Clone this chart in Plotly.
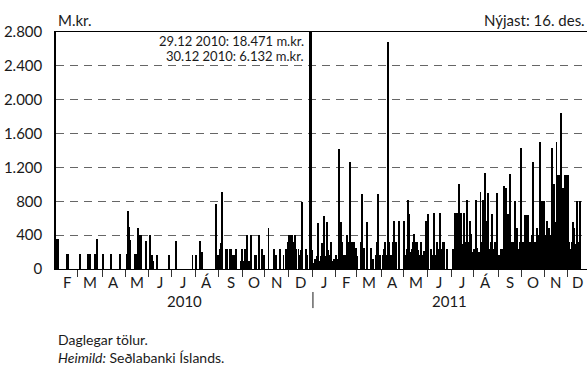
import plotly.graph_objects as go

# Dagleg velta (m.kr.), einn liður á hvern virkan dag mánaðarins
feb10 = [360, 360, 0, 0, 0, 0, 0, 0, 0, 0, 180, 180, 0, 0, 0, 0, 0, 0, 0, 0]
mar10 = [0, 0, 180, 0, 0, 0, 0, 0, 0, 180, 180, 180, 0, 0, 0, 0, 180, 180, 360, 0, 0, 0, 0]
apr10 = [180, 0, 0, 0, 0, 0, 0, 0, 180, 0, 0, 0, 0, 0, 0, 0, 180, 0, 0, 0, 0, 0]
may10 = [0, 180, 680, 500, 340, 0, 0, 0, 180, 0, 180, 480, 0, 400, 400, 0, 0, 0, 0, 330, 0]
jun10 = [0, 400, 0, 170, 90, 0, 0, 0, 170, 0, 0, 0, 0, 0, 0, 0, 0, 0, 0, 170, 0, 0]
jul10 = [0, 0, 0, 0, 330, 0, 0, 0, 0, 0, 0, 0, 0, 0, 0, 0, 0, 0, 0, 170, 0, 0]
aug10 = [170, 0, 0, 0, 330, 0, 200, 0, 0, 0, 0, 0, 0, 0, 0, 0, 0, 0, 0, 770, 0, 170]
sep10 = [0, 240, 310, 910, 0, 0, 240, 240, 0, 0, 240, 240, 0, 160, 160, 0, 240, 0, 0, 0, 90, 240]
oct10 = [0, 90, 240, 90, 400, 80, 90, 0, 400, 0, 0, 160, 160, 0, 0, 400, 0, 0, 240, 0, 160]
nov10 = [0, 0, 0, 480, 0, 0, 0, 0, 240, 0, 160, 0, 0, 0, 240, 0, 0, 160, 0, 240, 0, 320]
dec10 = [400, 400, 400, 400, 160, 320, 400, 240, 0, 240, 160, 220, 790, 0, 0, 0, 240, 160, 0, 0,
         18471, 6132, 230]

jan11 = [75, 120, 0, 150, 540, 100, 0, 150, 310, 150, 630, 100, 150, 560, 230, 160, 320, 100, 0, 120, 0]
feb11 = [160, 0, 120, 1415, 320, 550, 320, 160, 170, 170, 400, 320, 160, 1270, 240, 320, 160, 320, 0, 250]
mar11 = [150, 0, 0, 320, 890, 0, 250, 0, 0, 560, 0, 0, 0, 250, 0, 120, 0, 160, 320, 890, 0, 160, 0]
apr11 = [0, 160, 240, 320, 160, 0, 2680, 320, 160, 0, 320, 565, 200, 320, 0, 0, 570, 0, 0, 0, 0]
may11 = [570, 160, 240, 820, 650, 200, 160, 240, 320, 410, 320, 160, 320, 230, 160, 320, 0, 160, 210, 0,
         570, 160]
jun11 = [650, 0, 0, 240, 0, 160, 660, 160, 320, 240, 0, 660, 240, 160, 320, 320, 0, 0, 240, 0, 0, 0]
jul11 = [0, 240, 200, 660, 320, 660, 400, 1000, 320, 660, 300, 240, 660, 320, 820, 240, 320, 570, 410, 200,
         160]
aug11 = [240, 0, 820, 250, 0, 200, 905, 320, 820, 240, 1140, 570, 320, 900, 240, 160, 320, 650, 200, 240,
         320, 900, 160]
sep11 = [0, 160, 240, 0, 240, 975, 320, 955, 320, 650, 240, 1120, 320, 240, 320, 800, 320, 490, 200, 240,
         320, 1430]
oct11 = [320, 240, 320, 640, 640, 640, 320, 320, 240, 400, 1270, 320, 320, 240, 490, 320, 400, 1505, 800,
         800, 800]
nov11 = [400, 320, 565, 320, 490, 320, 400, 1430, 400, 1000, 560, 1505, 1110, 800, 1110, 1840, 800, 960,
         700, 1110, 560, 1110]
dec11 = [1110, 320, 240, 320, 560, 490, 240, 290, 800, 320, 240, 800]

months = [feb10, mar10, apr10, may10, jun10, jul10, aug10, sep10, oct10, nov10, dec10,
          jan11, feb11, mar11, apr11, may11, jun11, jul11, aug11, sep11, oct11, nov11, dec11]
month_labels = ["F", "M", "A", "M", "J", "J", "Á", "S", "O", "N", "D",
                "J", "F", "M", "A", "M", "J", "J", "Á", "S", "O", "N", "D"]
year_labels = ["2010", "2011"]
y_ticks = [0, 400, 800, 1200, 1600, 2000, 2400, 2800]

FONT = "Lato"
INK = "#1a1a1a"


def kr(v):
    return f"{v:,}".replace(",", ".")


def note(fig, text, x, y, xref="paper", xanchor="left", yanchor="middle", size=15, **kw):
    fig.add_annotation(x=x, y=y, xref=xref, yref="paper", xanchor=xanchor, yanchor=yanchor,
                       text=text, showarrow=False, font=dict(size=size, color=INK), **kw)


values = []
starts = []
for m in months:
    starts.append(len(values))
    values.extend(m)
n = len(values)
x_end = n + 5.5          # ásinn nær aðeins út fyrir síðasta gildi
jan_2011 = starts[11] - 0.5

fig = go.Figure(go.Bar(
    x=list(range(n)),
    y=values,
    width=0.9,
    marker=dict(color="#000000", line=dict(width=0)),
    hovertemplate="%{y:,d} m.kr.<extra></extra>",
))

# mánaðarheiti á milli strika
edges = [s - 0.5 for s in starts] + [x_end]
for i, lab in enumerate(month_labels):
    note(fig, lab, (edges[i] + edges[i + 1]) / 2, -0.055, xref="x", xanchor="center")

note(fig, year_labels[0], (-0.5 + jan_2011) / 2, -0.135, xref="x", xanchor="center")
note(fig, year_labels[1], (jan_2011 + x_end) / 2, -0.135, xref="x", xanchor="center")
fig.add_shape(type="line", xref="x", yref="paper", x0=jan_2011, x1=jan_2011, y0=-0.097, y1=-0.165,
              line=dict(color=INK, width=1))

# toppar sem fara út fyrir kvarðann
spike = starts[10] + 20
note(fig, f"29.12 2010: {kr(dec10[20])} m.kr.", spike, 0.962, xref="x", xanchor="right",
     size=13, xshift=-4)
note(fig, f"30.12 2010: {kr(dec10[21])} m.kr.", spike, 0.899, xref="x", xanchor="right",
     size=13, xshift=-4)

note(fig, "M.kr.", 0, 1.052)
note(fig, "Nýjast: 16. des.", 1, 1.052, xanchor="right")
note(fig, "Daglegar tölur.<br><i>Heimild:</i> Seðlabanki Íslands.", 0, -0.416,
     yanchor="bottom", size=14, align="left")

fig.update_layout(
    width=588,
    height=370,
    margin=dict(l=56, r=1, t=32, b=101),
    paper_bgcolor="white",
    plot_bgcolor="white",
    font=dict(family=FONT, size=15, color=INK),
    separators=",.",
    showlegend=False,
    bargap=0,
    xaxis=dict(
        range=[-0.5, x_end],
        showline=True, mirror=True, linecolor="#000000", linewidth=1,
        ticks="outside", ticklen=7, tickcolor="#333333", tickwidth=1,
        tickvals=[s - 0.5 for s in starts[1:]],
        showticklabels=False,
        showgrid=False, zeroline=False,
    ),
    yaxis=dict(
        range=[0, 2800],
        tickvals=y_ticks,
        tickformat=",d",
        showline=True, linecolor="#000000", linewidth=1.5,
        showgrid=True, gridcolor="#666666", gridwidth=1, griddash="8px,6px",
        zeroline=False,
        ticks="", ticklabelstandoff=9,
        tickfont=dict(size=15),
        layer="above traces",
    ),
)

# síðan á að fylla gluggann án spássíu
fig.write_html("out.html", config={"displayModeBar": False},
               post_script="document.body.style.margin='0';document.body.style.overflow='hidden';")
